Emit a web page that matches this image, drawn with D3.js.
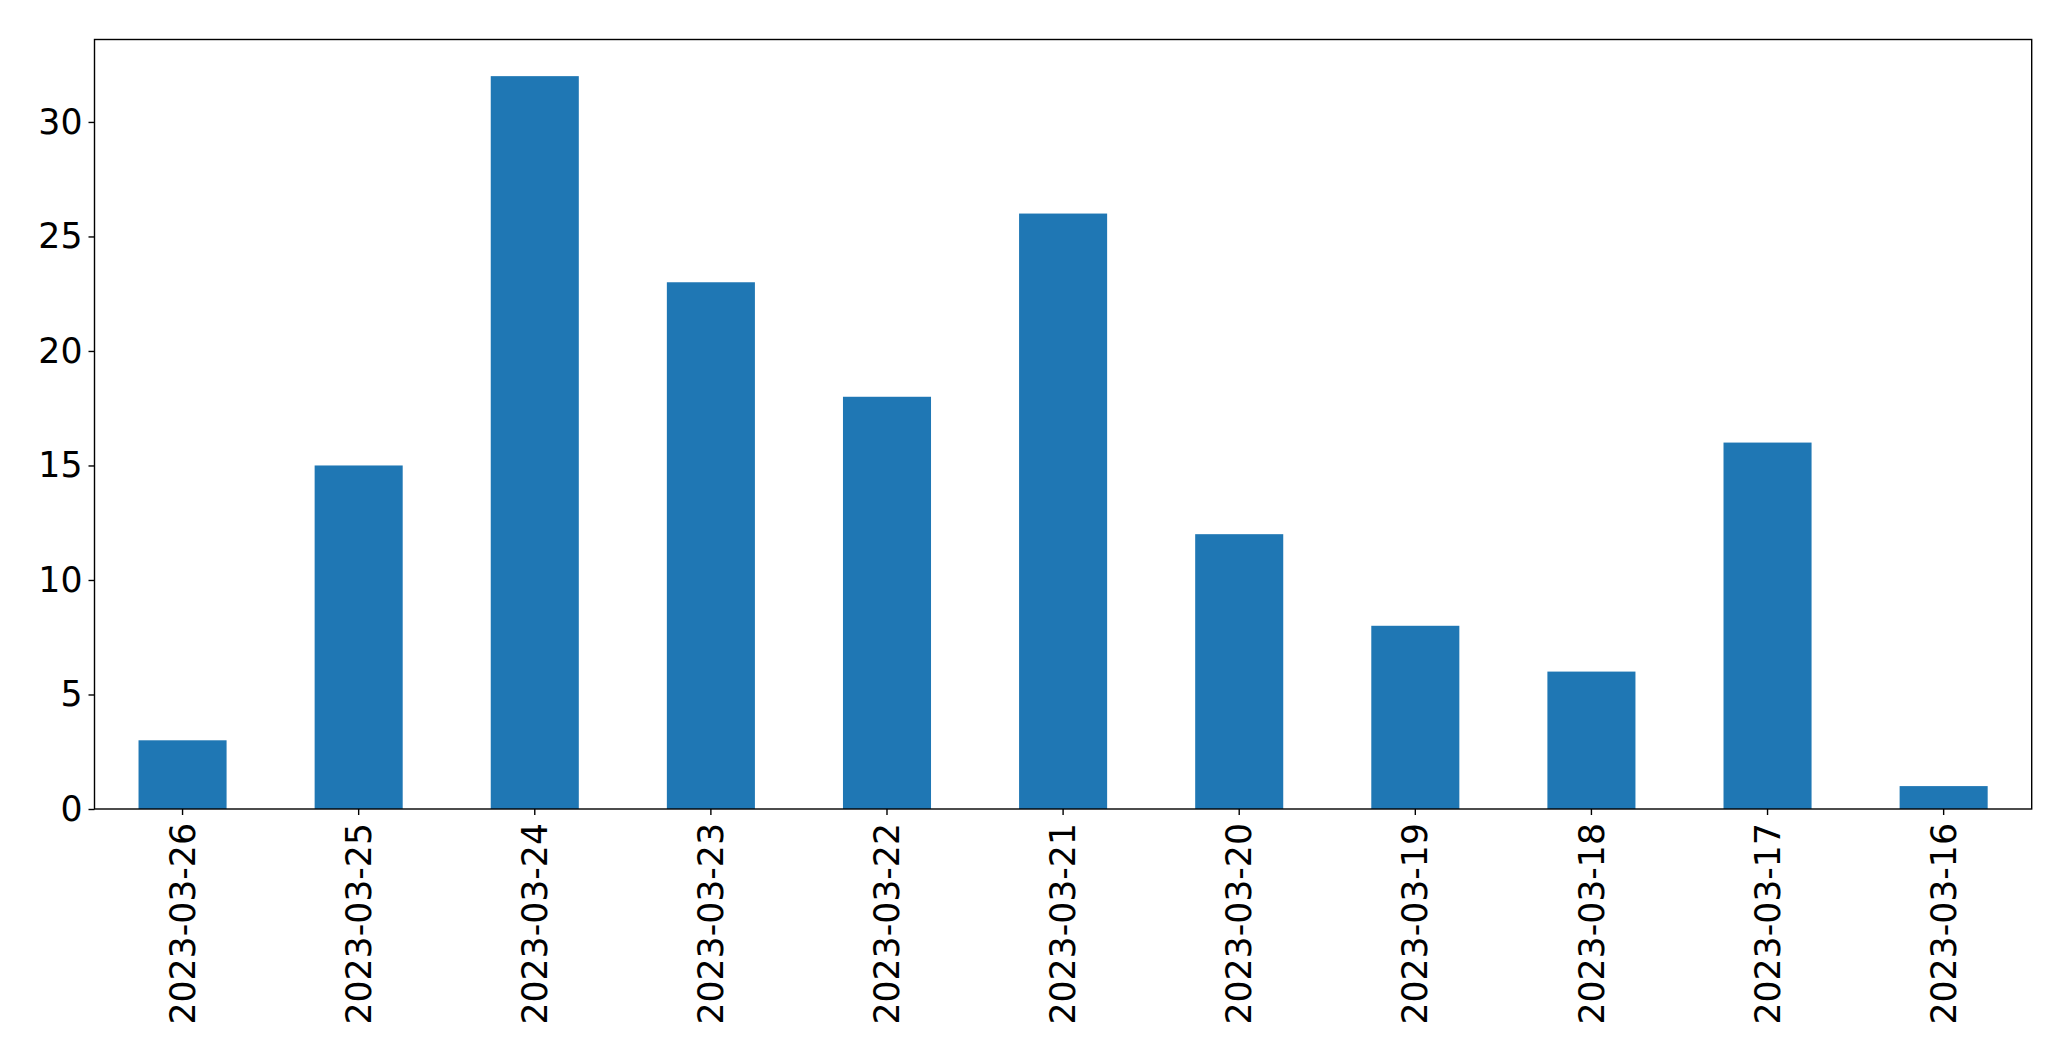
<!DOCTYPE html>
<html>
<head>
<meta charset="utf-8">
<script src="https://cdn.jsdelivr.net/npm/d3@7"></script>
<style>
  body { margin: 0; background: #fff; }
  text { font-family: "DejaVu Sans", sans-serif; }
</style>
</head>
<body>
<div id="chart"></div>
<script>
var dates = ['2023-03-26', '2023-03-25', '2023-03-24', '2023-03-23', '2023-03-22', '2023-03-21',
             '2023-03-20', '2023-03-19', '2023-03-18', '2023-03-17', '2023-03-16'];
var counts = [3, 15, 32, 23, 18, 26, 12, 8, 6, 16, 1];
var yTicks = [0, 5, 10, 15, 20, 25, 30];

var width = 2071,
    height = 1061,
    plotLeft = 94.5, plotRight = 2031.7,
    plotTop = 39.5, plotBottom = 809,
    fontSize = 34.7;

var svg = d3.select('#chart').append('svg')
    .attr('width', width)
    .attr('height', height);

var x = d3.scaleBand()
    .domain(dates)
    .range([plotLeft, plotRight])
    .paddingInner(0.5)
    .paddingOuter(0.25);

// matplotlib adds 5% margin on top
var y = d3.scaleLinear()
    .domain([0, d3.max(counts) * 1.05])
    .range([plotBottom, plotTop]);

svg.append('g')
  .selectAll('rect')
  .data(counts)
  .enter().append('rect')
    .attr('x', (d, i) => x(dates[i]))
    .attr('width', x.bandwidth())
    .attr('y', d => y(d))
    .attr('height', d => y(0) - y(d))
    .style('fill', '#1f77b4');

var yAxis = svg.append('g')
    .attr('transform', 'translate(' + plotLeft + ',0)')
    .call(d3.axisLeft(y).tickValues(yTicks).tickSize(6).tickPadding(6).tickSizeOuter(0));

var xAxis = svg.append('g')
    .attr('transform', 'translate(0,' + plotBottom + ')')
    .call(d3.axisBottom(x).tickSize(6).tickSizeOuter(0));

[yAxis, xAxis].forEach(a => {
    a.select('.domain').remove();
    a.selectAll('line').attr('stroke', '#000').attr('stroke-width', 1.4);
    a.selectAll('text')
        .attr('fill', '#000')
        .style('font-family', '"DejaVu Sans", sans-serif')
        .style('font-size', fontSize + 'px');
});

xAxis.selectAll('text')
    .attr('text-anchor', 'end')
    .attr('transform', 'rotate(-90)')
    .attr('x', -14)
    .attr('y', 0)
    .attr('dy', '0.35em');

// frame
svg.append('rect')
    .attr('x', plotLeft)
    .attr('y', plotTop)
    .attr('width', plotRight - plotLeft)
    .attr('height', plotBottom - plotTop)
    .style('fill', 'none')
    .style('stroke', '#000')
    .style('stroke-width', 1.4);
</script>
</body>
</html>
